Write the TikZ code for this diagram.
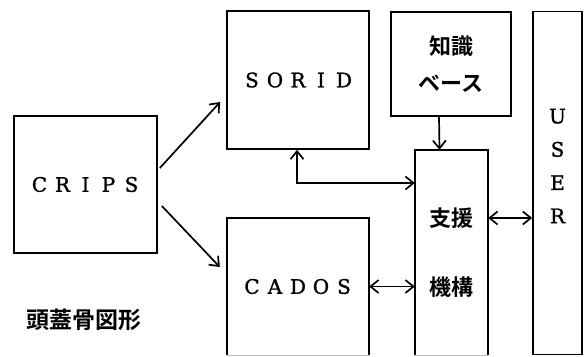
\documentclass[tikz,border=0pt]{standalone}
\usepackage{fontspec}
\setmainfont[FakeBold=1.3]{DejaVu Serif}
\newfontfamily\jpfont{Noto Sans CJK JP Bold}
\usetikzlibrary{arrows.meta,calc}
\newcommand\lt[1]{\makebox[23pt]{#1}}
\begin{document}
\begin{tikzpicture}[x=1pt,y=-1pt,
  box/.style={draw,line width=1.7pt,inner sep=0pt},
  latin/.style={font=\fontsize{20}{20}\selectfont},
  conn/.style={line width=1.7pt},
  barb/.tip={Straight Barb[length=8pt,width=13pt,line width=1.7pt]},
  tip/.style={-barb},
  dtip/.style={barb-barb}]
\useasboundingbox (0,0) rectangle (588,356);
\node[box,latin,minimum width=143pt,minimum height=137pt] (crips) at (85.5,184.5) {\lt C\lt R\lt I\lt P\lt S};
\node[box,latin,minimum width=142pt,minimum height=138pt] (sorid) at (298,80) {\lt S\lt O\lt R\lt I\lt D};
\node[latin,inner sep=0pt,minimum width=142pt,minimum height=137pt] (cados) at (298,286.5) {\lt C\lt A\lt D\lt O\lt S};
\draw[line width=1.7pt] (cados.south west) -- (cados.north west) -- (cados.north east) -- (cados.south east);
\draw[line width=1pt,gray!50] (cados.south west) -- (cados.south east);
\node[box,align=center,minimum width=120pt,minimum height=104pt,font=\jpfont\fontsize{22}{37}\selectfont] (kb) at (451,64) {知識\\ベース};
\node[inner sep=0pt,minimum width=73pt,minimum height=205pt,align=center,font=\jpfont\fontsize{22}{69}\selectfont] (sup) at (451.5,252.5) {支援\\機構};
\draw[line width=1.7pt] (sup.south west) -- (sup.north west) -- (sup.north east) -- (sup.south east);
\draw[line width=1pt,gray!50] (sup.south west) -- (sup.south east);
\node[box,minimum width=49pt,minimum height=343pt] (user) at (557.5,183) {};
\node[align=center,font=\fontsize{20}{33.3}\selectfont] (usertext) at (557.5,166) {U\\S\\E\\R};
\node[font=\jpfont\fontsize{23}{23}\selectfont] (title) at (84,320) {頭蓋骨図形};
\draw[conn,tip] ([shift={(2pt,16.5pt)}]crips.east) -- ([shift={(-6pt,-22pt)}]sorid.west);
\draw[conn,tip] ([shift={(4pt,-21.5pt)}]crips.east) -- ([shift={(-7pt,19.5pt)}]cados.west);
\draw[conn,tip] ([xshift=-12pt]kb.south) -- ([xshift=-12pt]sup.north);
\draw[conn,dtip] ([xshift=-1pt]sorid.south) |- ([yshift=69.5pt]sup.west);
\draw[conn,dtip] (cados.east) -- (cados.east -| sup.west);
\draw[conn,dtip] ([yshift=34.5pt]sup.east) -- ([yshift=34.5pt]sup.east -| user.west);
\end{tikzpicture}
\end{document}
